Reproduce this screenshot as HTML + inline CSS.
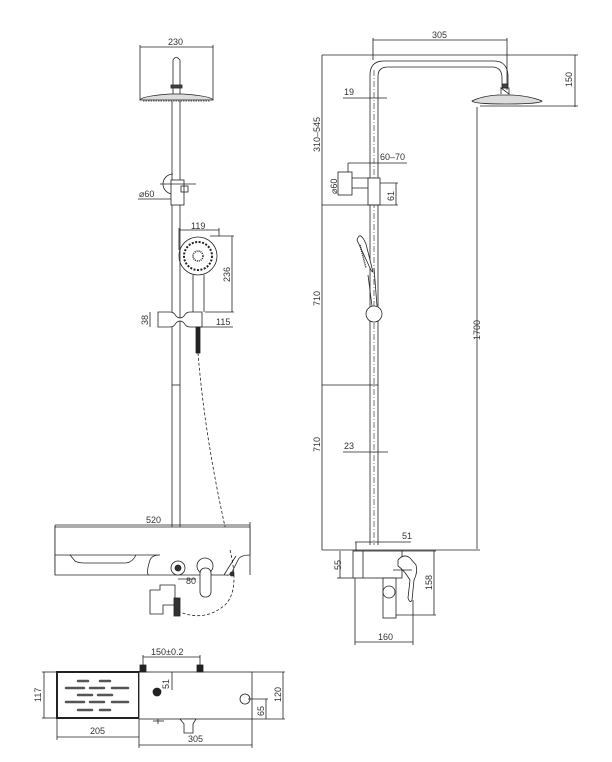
<!DOCTYPE html>
<html><head><meta charset="utf-8"><style>
html,body{margin:0;padding:0;background:#fff}
svg{display:block}
text{font-family:"Liberation Sans",sans-serif;font-size:9px;fill:#333}
</style></head><body>
<svg width="612" height="762" viewBox="0 0 612 762" xmlns="http://www.w3.org/2000/svg" fill="none" stroke="#222" stroke-width="0.8">
<!-- LEFT VIEW -->
<line x1="140" y1="47" x2="213" y2="47"/>
<line x1="140" y1="45" x2="140" y2="100"/><line x1="213" y1="45" x2="213" y2="100"/>
<text x="168" y="45" stroke="none">230</text>
<path d="M173 95 V60 Q176 55 180 60 V95" />
<rect x="171" y="85" width="11" height="3" fill="#444"/>
<path d="M140 100 Q142 96 170 94 L183 94 Q211 96 213 100 Z" fill="#ddd"/>
<line x1="143" y1="101" x2="210" y2="101" stroke-dasharray="1.5 1"/>
<!-- pole -->
<line x1="172" y1="101" x2="172" y2="560"/><line x1="180" y1="101" x2="180" y2="560"/>
<!-- holder -->
<path d="M173 174 A10 10 0 1 0 173 194"/>
<rect x="171" y="180" width="13" height="25" fill="#fff"/>
<rect x="181" y="186" width="7" height="6"/>
<line x1="160" y1="184" x2="196" y2="184"/>
<line x1="138" y1="199" x2="171" y2="199"/>
<text x="139" y="197" stroke="none">⌀60</text>
<!-- hand shower -->
<line x1="179" y1="230" x2="219" y2="230"/><line x1="179" y1="228" x2="179" y2="250"/><line x1="219" y1="228" x2="219" y2="236"/>
<text x="191" y="229" stroke="none">119</text>
<circle cx="198" cy="256" r="19"/>
<circle cx="198" cy="256" r="14" stroke-dasharray="2 1.5" stroke-width="2"/>
<circle cx="198" cy="256" r="5" stroke-dasharray="1 1" stroke-width="1.5"/>
<path d="M193 275 L193 312 M204 275 L204 312"/>
<line x1="210" y1="236" x2="234" y2="236"/><line x1="205" y1="312" x2="234" y2="312"/>
<line x1="232" y1="236" x2="232" y2="312"/>
<text transform="translate(230,282) rotate(-90)" stroke="none">236</text>
<!-- slider -->
<path d="M158 312 H170 Q174 312 176 316 Q180 320 184 316 Q186 312 190 312 H202 V327 H190 Q186 327 184 323 Q180 319 176 323 Q174 327 170 327 H158 Z" fill="#fff"/>
<line x1="150" y1="312" x2="150" y2="327"/>
<text transform="translate(148,325) rotate(-90)" stroke="none">38</text>
<line x1="200" y1="327" x2="233" y2="327"/>
<text x="216" y="325" stroke="none">115</text>
<rect x="196" y="327" width="4" height="26" fill="#222"/>
<line x1="172" y1="385" x2="180" y2="385"/>
<path d="M198 353 Q205 440 228 540" stroke-dasharray="3 2"/>
<!-- shelf -->
<line x1="55" y1="525" x2="250" y2="525"/>
<text x="146" y="523" stroke="none">520</text>
<path d="M55 525 V575 M250 522 V575"/>
<path d="M55 527 H250 V555 Q240 555 238 560 L232 572 Q230 576 226 575 L150 575 Q145 576 150 560 Q152 555 160 555 H55 Z M55 555 V575 H150" fill="#fff"/>
<path d="M70 555 L75 561 Q78 563 85 563 H125 Q132 563 136 555"/>
<path d="M224 575 Q230 565 236 556"/>
<circle cx="178" cy="568" r="7" fill="#fff"/><circle cx="178" cy="568" r="3" fill="#333"/>
<circle cx="205" cy="566" r="8" fill="#fff"/>
<rect x="200" y="568" width="11" height="29" rx="5" fill="#fff"/>
<line x1="178" y1="579" x2="196" y2="579"/>
<text x="186" y="584" stroke="none">80</text>
<path d="M160 585 H175 V605 H163 V614 H150 V590 H160 Z" fill="#fff"/>
<rect x="174" y="598" width="6" height="18" fill="#333"/>
<circle cx="232" cy="574" r="2" fill="#333"/>
<path d="M230 550 Q240 590 225 605 Q205 622 180 612" stroke-dasharray="3 2"/>
<!-- RIGHT VIEW -->
<line x1="373" y1="40" x2="507" y2="40"/>
<line x1="373" y1="38" x2="373" y2="60"/><line x1="507" y1="38" x2="507" y2="90"/>
<text x="432" y="38" stroke="none">305</text>
<line x1="322" y1="55" x2="578" y2="55"/>
<line x1="575" y1="55" x2="575" y2="107"/><line x1="480" y1="106" x2="578" y2="106"/>
<text transform="translate(572,87) rotate(-90)" stroke="none">150</text>
<path d="M370 545 V75 Q370 61 384 61 H494 Q507 61 508 75 V84"/>
<path d="M378 545 V76 Q378 67 388 67 H492 Q502 67 502 78 V84"/>
<rect x="502" y="84" width="6" height="4" fill="#444"/>
<path d="M501 88 H509 V94 Z M501 88 V94"/>
<path d="M472 101 Q482 96 498 95 H512 Q530 96 542 101 Q540 104 505 104 Q474 104 472 101 Z" fill="#ddd"/>
<line x1="374" y1="70" x2="374" y2="545" stroke-dasharray="6 2 1 2" stroke-width="0.6"/>
<line x1="477" y1="107" x2="477" y2="549"/>
<text transform="translate(480,340) rotate(-90)" stroke="none">1700</text>
<line x1="343" y1="98" x2="387" y2="98"/><text x="344" y="95" stroke="none">19</text>
<line x1="322" y1="55" x2="322" y2="550"/>
<text transform="translate(320,152) rotate(-90)" stroke="none">310–545</text>
<line x1="348" y1="163" x2="407" y2="163"/><line x1="348" y1="163" x2="348" y2="172"/>
<text x="380" y="160" stroke="none">60–70</text>
<rect x="338" y="172" width="14" height="23" fill="#fff"/>
<path d="M352 178 H369 M352 188 H369"/>
<rect x="368" y="178" width="12" height="27" fill="#fff"/>
<text transform="translate(337,194) rotate(-90)" stroke="none">⌀60</text>
<line x1="380" y1="183" x2="398" y2="183"/><line x1="396" y1="183" x2="396" y2="205"/>
<text transform="translate(394,201) rotate(-90)" stroke="none">61</text>
<line x1="322" y1="205" x2="398" y2="205"/>
<path d="M357 240 Q360 230 366 244 L372 268 Q374 276 370 268 Z" fill="#fff"/>
<path d="M360 245 L366 268" stroke-dasharray="1 1" stroke-width="1.5"/>
<path d="M368 275 L372 306 M374 268 L377 306"/>
<circle cx="374" cy="314" r="8" fill="#fff"/>
<text transform="translate(320,306) rotate(-90)" stroke="none">710</text>
<line x1="322" y1="385" x2="378" y2="385"/>
<text transform="translate(320,452) rotate(-90)" stroke="none">710</text>
<line x1="343" y1="452" x2="388" y2="452"/><text x="344" y="449" stroke="none">23</text>
<line x1="322" y1="550" x2="480" y2="550"/>
<line x1="355" y1="542" x2="411" y2="542"/><line x1="356" y1="542" x2="356" y2="552"/>
<text x="402" y="539" stroke="none">51</text>
<rect x="353" y="551" width="49" height="27" fill="#fff"/>
<line x1="363" y1="551" x2="363" y2="578"/>
<path d="M398 560 Q404 553 410 558 L416 565 Q418 572 414 580 L412 600 Q410 604 408 598 L410 580 Q404 570 398 566 Z" fill="#fff"/>
<line x1="393" y1="570" x2="412" y2="570"/>
<rect x="383" y="578" width="13" height="40" fill="#fff"/>
<circle cx="389" cy="592" r="6" fill="#fff"/>
<line x1="340" y1="551" x2="340" y2="578"/><line x1="337" y1="578" x2="353" y2="578"/>
<text transform="translate(341,570) rotate(-90)" stroke="none">55</text>
<line x1="402" y1="551" x2="436" y2="551"/><line x1="396" y1="615" x2="436" y2="615"/>
<line x1="434" y1="551" x2="434" y2="615"/>
<text transform="translate(432,590) rotate(-90)" stroke="none">158</text>
<line x1="355" y1="578" x2="355" y2="645"/><line x1="413" y1="600" x2="413" y2="645"/>
<line x1="355" y1="642" x2="413" y2="642"/>
<text x="378" y="640" stroke="none">160</text>
<!-- PLAN VIEW -->
<rect x="57" y="672" width="82" height="46" stroke-width="2" fill="#fff"/>
<g stroke-width="2.5" stroke="#555" stroke-linecap="round">
<line x1="78" y1="681" x2="88" y2="681"/><line x1="100" y1="681" x2="110" y2="681"/>
<line x1="66" y1="688" x2="84" y2="688"/><line x1="90" y1="688" x2="104" y2="688"/><line x1="112" y1="688" x2="128" y2="688"/>
<line x1="78" y1="695" x2="92" y2="695"/><line x1="98" y1="695" x2="112" y2="695"/>
<line x1="66" y1="702" x2="84" y2="702"/><line x1="90" y1="702" x2="104" y2="702"/><line x1="112" y1="702" x2="128" y2="702"/>
<line x1="78" y1="710" x2="92" y2="710"/><line x1="100" y1="710" x2="110" y2="710"/>
</g>
<line x1="44" y1="672" x2="44" y2="718"/><line x1="42" y1="672" x2="57" y2="672"/><line x1="42" y1="718" x2="57" y2="718"/>
<text transform="translate(41,702) rotate(-90)" stroke="none">117</text>
<rect x="139" y="672" width="113" height="47" fill="#fff"/>
<rect x="140" y="665" width="6" height="7" fill="#222"/><rect x="197" y="665" width="6" height="7" fill="#222"/>
<line x1="143" y1="657" x2="200" y2="657"/><line x1="143" y1="655" x2="143" y2="665"/><line x1="200" y1="655" x2="200" y2="665"/>
<text x="151" y="655" stroke="none">150±0.2</text>
<line x1="172" y1="672" x2="172" y2="690"/>
<text transform="translate(169,689) rotate(-90)" stroke="none">51</text>
<circle cx="157" cy="692" r="4" fill="#222"/>
<circle cx="245" cy="699" r="5" fill="#fff"/>
<line x1="252" y1="672" x2="285" y2="672"/><line x1="252" y1="719" x2="285" y2="719"/>
<line x1="283" y1="672" x2="283" y2="719"/>
<text transform="translate(281,702) rotate(-90)" stroke="none">120</text>
<line x1="248" y1="699" x2="268" y2="699"/><line x1="266" y1="699" x2="266" y2="719"/>
<text transform="translate(264,716) rotate(-90)" stroke="none">65</text>
<line x1="153" y1="721" x2="164" y2="721"/><line x1="158" y1="719" x2="158" y2="724"/>
<path d="M180 719 H196 L193 724 V733 H184 V724 Z" fill="#fff"/>
<line x1="57" y1="718" x2="57" y2="740"/><line x1="139" y1="719" x2="139" y2="748"/><line x1="252" y1="719" x2="252" y2="748"/>
<line x1="57" y1="737" x2="139" y2="737"/><text x="90" y="734" stroke="none">205</text>
<line x1="139" y1="745" x2="252" y2="745"/><text x="188" y="742" stroke="none">305</text>
</svg>
</body></html>
